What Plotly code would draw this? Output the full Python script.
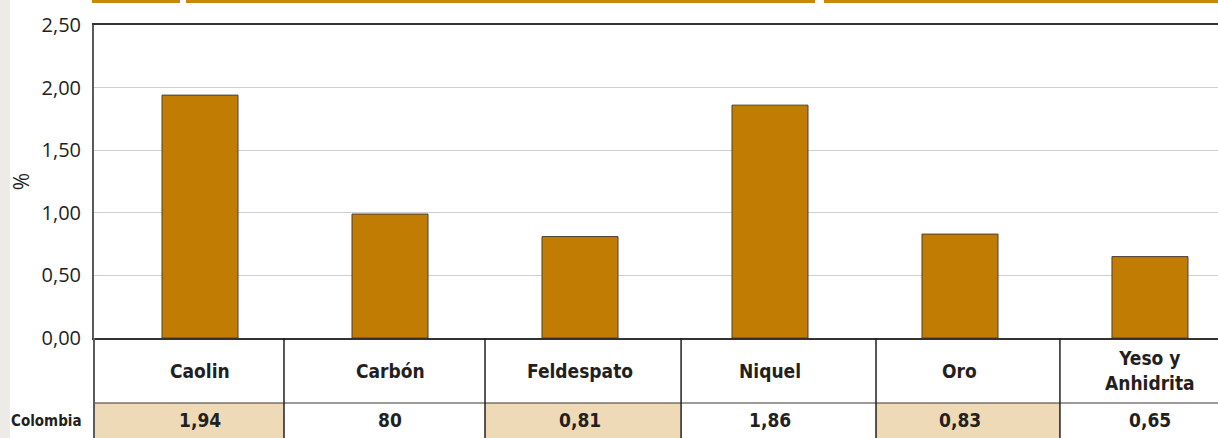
import plotly.graph_objects as go

# ---- data ----
categories = ["Caolin", "Carbón", "Feldespato", "Niquel", "Oro", "Yeso y<br>Anhidrita"]
values = [1.94, 0.99, 0.81, 1.86, 0.83, 0.65]
table_row_label = "Colombia"
table_values = ["1,94", "80", "0,81", "1,86", "0,83", "0,65"]
shaded = [True, False, True, False, True, False]
y_ticks = [0, 0.5, 1.0, 1.5, 2.0, 2.5]

# ---- layout constants ----
W, H = 1218, 438
ML, MR, MT, MB = 94, 0, 25, 100
PW, PH = W - ML - MR, H - MT - MB
X_RANGE = [-0.558, 5.358]
# table column edges (axis units)
col_edges = [X_RANGE[0], 0.442, 1.5, 2.532, 3.558, 4.526, X_RANGE[1]]

def py(pix):  # pixel row -> paper y
    return (H - MB - pix) / PH

def px(pix):  # pixel col -> paper x
    return (pix - ML) / PW

BAR = "#C17C04"
TAN = "#EFDAB8"
TFAM = "DejaVu Sans Condensed"
TFONT = dict(family=TFAM, size=19, color="#231f20", weight="bold")

fig = go.Figure()
fig.add_trace(go.Bar(
    x=list(range(len(categories))), y=values, width=0.4,
    marker=dict(color=BAR, line=dict(color="#4a3e33", width=1)),
    hoverinfo="skip",
))

shapes = []
annotations = []

row_top, row_mid, row_bot = py(338), py(403), py(440)

for i, s in enumerate(shaded):
    if s:
        shapes.append(dict(type="rect", xref="x", yref="paper",
                           x0=col_edges[i], x1=col_edges[i + 1], y0=row_bot, y1=row_mid,
                           fillcolor=TAN, line=dict(width=0), layer="below"))
shapes.append(dict(type="line", xref="paper", yref="paper", x0=0, x1=1, y0=row_mid, y1=row_mid,
                   line=dict(color="#3a3530", width=1.2)))
for e in col_edges[1:-1]:
    shapes.append(dict(type="line", xref="x", yref="paper", x0=e, x1=e, y0=row_bot, y1=row_top,
                       line=dict(color="#231f20", width=1.5)))
shapes.append(dict(type="line", xref="paper", yref="paper", x0=0, x1=0, y0=row_bot, y1=row_top,
                   line=dict(color="#5a5a5a", width=2)))
shapes.append(dict(type="rect", xref="paper", yref="paper", x0=px(-2), x1=px(10),
                   y0=py(445), y1=py(-5), fillcolor="#EDEBE8", line=dict(width=0), layer="below"))
for a, b in [(92, 180), (186, 815), (824, 1222)]:
    shapes.append(dict(type="rect", xref="paper", yref="paper", x0=px(a), x1=px(b),
                       y0=py(3), y1=py(-3), fillcolor="#C8860A", line=dict(width=0)))

for i, (c, v) in enumerate(zip(categories, table_values)):
    annotations.append(dict(x=i, y=(row_top + row_mid) / 2, xref="x", yref="paper",
                            text=c, showarrow=False, font=TFONT, yanchor="middle"))
    annotations.append(dict(x=i, y=py(420), xref="x", yref="paper",
                            text=v, showarrow=False, font=TFONT, yanchor="middle"))
annotations.append(dict(x=0, xshift=-10, y=py(421), xref="paper", yref="paper",
                        xanchor="right", yanchor="middle",
                        text=table_row_label, showarrow=False,
                        font=dict(family=TFAM, size=15, color="#231f20", weight="bold")))

fig.update_layout(
    width=W, height=H,
    margin=dict(l=ML, r=MR, t=MT, b=MB, pad=0),
    paper_bgcolor="white", plot_bgcolor="white",
    separators=",.",
    showlegend=False,
    shapes=shapes, annotations=annotations,
    xaxis=dict(range=X_RANGE, showticklabels=False, showgrid=False, zeroline=False,
               showline=True, mirror=True, linecolor="#333333", linewidth=2, ticks=""),
    yaxis=dict(range=[0, 2.5], tickvals=y_ticks, tickformat=".2f",
               showgrid=True, gridcolor="#cfcfcf", gridwidth=1, zeroline=False,
               showline=True, linecolor="#5a5a5a", linewidth=2,
               ticks="outside", ticklen=7, tickcolor="rgba(0,0,0,0)",
               tickfont=dict(family="Open Sans", size=20, color="#231f20"),
               title=dict(text="%", standoff=6,
                          font=dict(family="Open Sans", size=21, color="#231f20"))),
)

fig.write_html("out.html", config={"displayModeBar": False},
               post_script="document.body.style.margin='0';document.body.style.overflow='hidden';")
